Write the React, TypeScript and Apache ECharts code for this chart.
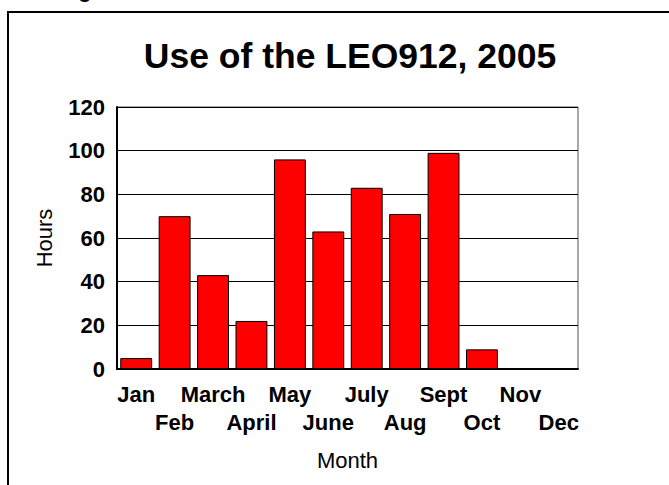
import React, { useEffect, useRef } from "react";
import * as echarts from "echarts";

// Monthly usage of the LEO912 during 2005, in hours
const months = ["Jan", "Feb", "March", "April", "May", "June", "July", "Aug", "Sept", "Oct", "Nov", "Dec"];
const hours = [5, 70, 43, 22, 96, 63, 83, 71, 99, 9, 0, 0];
const yTicks = { min: 0, max: 120, interval: 20 };

const FONT = "'Liberation Sans', Arial, Helvetica, sans-serif";

export default function App() {
  const ref = useRef<HTMLDivElement>(null);

  useEffect(() => {
    if (!ref.current) return;
    const chart = echarts.init(ref.current, null, { renderer: "svg" });
    chart.setOption({
      animation: false,
      backgroundColor: "#ffffff",
      textStyle: { fontFamily: FONT, color: "#000" },
      title: {
        text: "Use of the LEO912, 2005",
        left: 345,
        top: 33,
        textAlign: "center",
        textStyle: { fontFamily: FONT, fontSize: 35.5, fontWeight: "bold", color: "#000" },
      },
      graphic: [
        // frame around the chart
        {
          type: "rect",
          shape: { x: 8, y: 12, width: 720, height: 520 },
          style: { fill: "none", stroke: "#000", lineWidth: 2 },
          silent: true,
        },
        // descender of the caption line above the frame
        {
          type: "text",
          x: 85,
          y: -10,
          style: {
            text: "g",
            fontFamily: FONT,
            fontSize: 21,
            fontWeight: "bold",
            fill: "#000",
            align: "center",
            verticalAlign: "middle",
          },
          silent: true,
        },
      ],
      grid: {
        left: 117,
        right: 91,
        top: 107,
        bottom: 116,
        show: true,
        borderColor: "#555",
        borderWidth: 1,
        backgroundColor: "#fff",
      },
      xAxis: {
        type: "category",
        data: months,
        name: "Month",
        nameLocation: "middle",
        nameGap: 80,
        nameTextStyle: { fontFamily: FONT, fontSize: 22, color: "#000" },
        axisLine: { show: true, lineStyle: { color: "#000", width: 2 } },
        axisTick: { show: false },
        axisLabel: {
          interval: 0,
          margin: 11,
          fontFamily: FONT,
          fontSize: 22,
          fontWeight: "bold",
          color: "#000",
          lineHeight: 28,
          formatter: (v: string, i: number) => (i % 2 === 1 ? "\n" + v : v),
        },
      },
      yAxis: {
        type: "value",
        min: yTicks.min,
        max: yTicks.max,
        interval: yTicks.interval,
        name: "Hours",
        nameLocation: "middle",
        nameGap: 62,
        nameRotate: 90,
        nameTextStyle: { fontFamily: FONT, fontSize: 22, color: "#000" },
        axisLine: { show: true, lineStyle: { color: "#000", width: 2 } },
        axisTick: { show: false },
        axisLabel: {
          margin: 12,
          fontFamily: FONT,
          fontSize: 22,
          fontWeight: "bold",
          color: "#000",
        },
        splitLine: { show: true, lineStyle: { color: "#000", width: 1 } },
      },
      series: [
        {
          type: "bar",
          data: hours,
          barCategoryGap: "17%",
          itemStyle: { color: "#ff0000", borderColor: "#000", borderWidth: 1 },
        },
      ],
    });
    return () => chart.dispose();
  }, []);

  return (
    <div
      ref={ref}
      style={{ position: "fixed", left: 0, top: 0, width: 669, height: 485 }}
    />
  );
}
